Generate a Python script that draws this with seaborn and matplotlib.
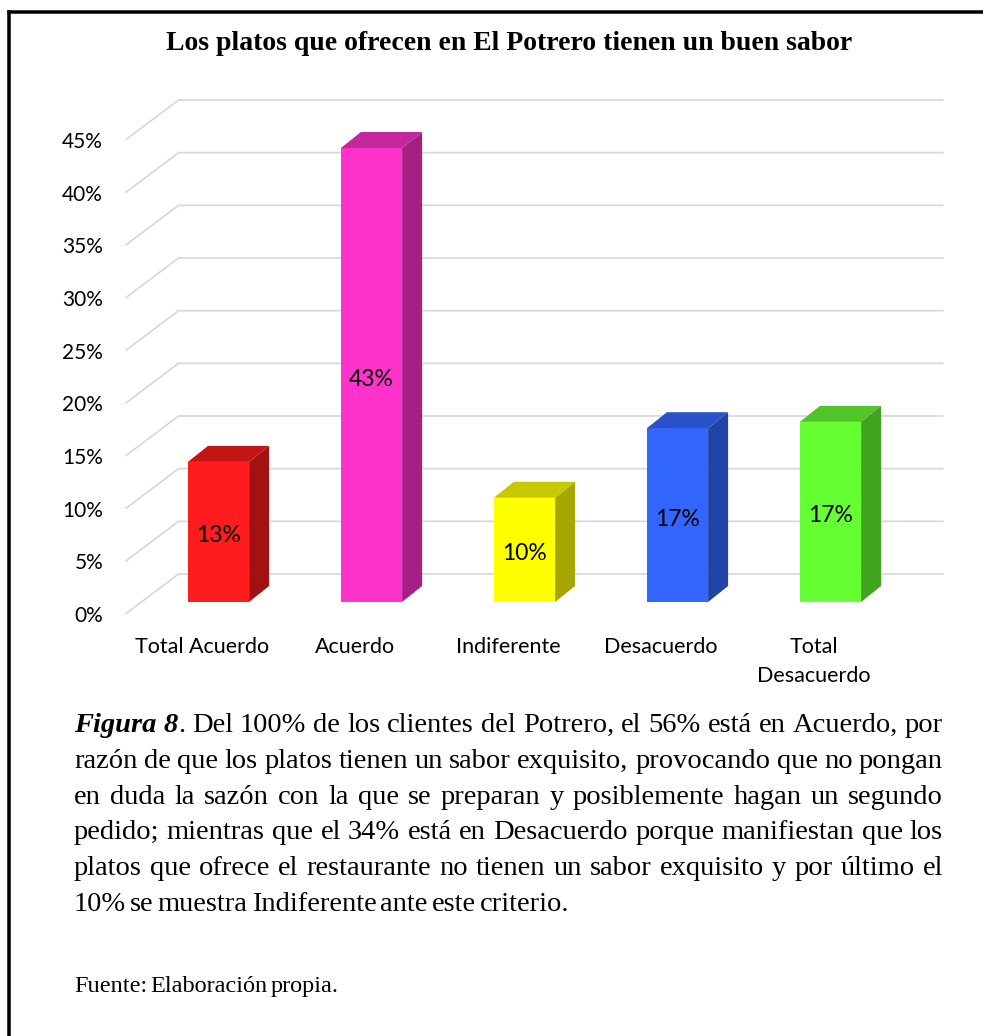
import matplotlib
matplotlib.use("Agg")
import matplotlib.pyplot as plt
import seaborn as sns
import pandas as pd
from matplotlib.patches import Polygon
from matplotlib.transforms import ScaledTranslation
from matplotlib.lines import Line2D

# ---------------- data ----------------
categories = ["Total Acuerdo", "Acuerdo", "Indiferente", "Desacuerdo", "Total\nDesacuerdo"]
values = [13.3, 43.1, 9.9, 16.5, 17.1]
value_labels = ["13%", "43%", "10%", "17%", "17%"]
y_ticks = [0, 5, 10, 15, 20, 25, 30, 35, 40, 45]
y_tick_labels = ["0%", "5%", "10%", "15%", "20%", "25%", "30%", "35%", "40%", "45%"]
front_colors = ["#FF1C1C", "#FF33CC", "#FFFF00", "#3366FF", "#66FF33"]
side_colors = ["#A31212", "#A61F85", "#A6A600", "#2244A6", "#42A321"]
top_colors = ["#C41515", "#C4279C", "#C8C800", "#2A52C8", "#52C428"]

title = "Los platos que ofrecen en El Potrero tienen un buen sabor"
caption_lines = [
    [[("Figura", "bi")], [("8", "bi"), (".", "r")], [("Del", "r")], [("100%", "r")], [("de", "r")],
     [("los", "r")], [("clientes", "r")], [("del", "r")], [("Potrero,", "r")], [("el", "r")],
     [("56%", "r")], [("está", "r")], [("en", "r")], [("Acuerdo,", "r")], [("por", "r")]],
    "razón de que los platos tienen un sabor exquisito, provocando que no pongan",
    "en duda la sazón con la que se preparan y posiblemente hagan un segundo",
    "pedido; mientras que el 34% está en Desacuerdo porque manifiestan que los",
    "platos que ofrece el restaurante no tienen un sabor exquisito y por último el",
]
caption_last = "10% se muestra Indiferente ante este criterio."
source = "Fuente: Elaboración propia."

# ---------------- layout ----------------
W, H = 983, 1036
sns.set_style("white")
plt.rcParams["font.family"] = ["Lato", "DejaVu Sans"]

fig = plt.figure(figsize=(W / 100, H / 100), dpi=100)
ax = fig.add_axes([142 / W, 434 / H, 765 / W, 474 / H])

df = pd.DataFrame({"cat": categories, "val": values})
sns.barplot(data=df, x="cat", y="val", hue="cat", palette=front_colors, width=0.4,
            saturation=1, legend=False, ax=ax, zorder=3, linewidth=0)
ax.set_xlim(-0.5, 4.5)
ax.set_ylim(0, 45)
ax.set_xlabel("")
ax.set_ylabel("")
for s in ax.spines.values():
    s.set_visible(False)

px_x = 765 / 5.0
px_y = 474 / 45.0


def dxd(px):
    return px / px_x


def dyd(px):
    return px / px_y


# perspective gridlines (front -> back -> right)
for t in y_ticks:
    xs = [-0.5 + dxd(-16.5), -0.5 + dxd(36.5), 4.5 + dxd(36.5)]
    ys = [t + dyd(-12), t + dyd(28), t + dyd(28)]
    ax.plot(xs, ys, color="#D9D9D9", lw=1.3, clip_on=False, zorder=1,
            solid_capstyle="butt", solid_joinstyle="miter")

# 3D side and top faces built from the seaborn bars
ddx, ddy = dxd(20), dyd(16)
bars = [c.patches[0] for c in ax.containers]
for i, p in enumerate(bars):
    x0 = p.get_x()
    x1 = x0 + p.get_width()
    h = p.get_height()
    side = Polygon([(x1, 0), (x1 + ddx, ddy), (x1 + ddx, h + ddy), (x1, h)],
                   closed=True, facecolor=side_colors[i], edgecolor="none", zorder=3)
    top = Polygon([(x0, h), (x0 + ddx, h + ddy), (x1 + ddx, h + ddy), (x1, h)],
                  closed=True, facecolor=top_colors[i], edgecolor="none", zorder=3)
    ax.add_patch(side)
    ax.add_patch(top)
    ax.text(x0 + p.get_width() / 2, h / 2 - dyd(4), value_labels[i], ha="center", va="center",
            fontsize=16.5, color="black", zorder=5)

# ticks
ax.set_yticks(y_ticks, y_tick_labels)
ax.set_xticks(range(len(categories)), categories)
ax.tick_params(axis="y", length=0, pad=28, labelsize=15, labelcolor="black")
ax.tick_params(axis="x", length=0, pad=25.5, labelsize=15.5, labelcolor="black")
for lbl in ax.get_yticklabels():
    lbl.set_transform(lbl.get_transform() + ScaledTranslation(0, -12 / 100, fig.dpi_scale_trans))
for lbl in ax.get_xticklabels():
    lbl.set_transform(lbl.get_transform() + ScaledTranslation(-16.5 / 100, 0, fig.dpi_scale_trans))
    lbl.set_linespacing(1.55)
    lbl.set_multialignment("center")

# title
fig.text(509 / W, 1 - 43 / H, title, ha="center", va="center", fontfamily="Liberation Serif",
         fontweight="bold", fontsize=20, color="black")

# frame (left and top sides)
lw_frame = 3.5 * 0.72
fig.add_artist(Line2D([9 / W, 9 / W], [1 - 11.5 / H, -0.02], transform=fig.transFigure,
                      color="black", lw=lw_frame, solid_capstyle="projecting"))
fig.add_artist(Line2D([9 / W, 1.02], [1 - 11.5 / H, 1 - 11.5 / H], transform=fig.transFigure,
                      color="black", lw=lw_frame, solid_capstyle="projecting"))

# caption (justified)
styles = {"r": dict(fontstyle="normal", fontweight="normal"),
          "bi": dict(fontstyle="italic", fontweight="bold")}
renderer = fig.canvas.get_renderer()
left_px, right_px = 74, 943
base0, step = 732, 35.8


def to_words(line):
    if isinstance(line, str):
        return [[(w, "r")] for w in line.split(" ")]
    return line


def make_seg(x_px, y_px, txt, st, size):
    return fig.text(x_px / W, 1 - y_px / H, txt, ha="left", va="baseline",
                    fontfamily="Liberation Serif", fontsize=size, color="black",
                    **styles[st])


def place_line(words, y_px, size, justify, gap_px=None):
    items = []
    for word in words:
        segs = []
        for txt, st in word:
            t = make_seg(0, y_px, txt, st, size)
            w = t.get_window_extent(renderer).width
            segs.append((t, w))
        items.append(segs)
    widths = [sum(w for _, w in segs) for segs in items]
    if justify and len(items) > 1:
        gap = (right_px - left_px - sum(widths)) / (len(items) - 1)
    elif gap_px is not None:
        gap = gap_px
    else:
        gap = size / 72 * 100 * 0.25
    x = left_px
    for segs, wsum in zip(items, widths):
        xx = x
        for t, w in segs:
            t.set_x(xx / W)
            xx += w
        x += wsum + gap


cap_size = 20.5
for k, line in enumerate(caption_lines):
    place_line(to_words(line), base0 + k * step, cap_size, True)
place_line(to_words(caption_last), base0 + len(caption_lines) * step, cap_size, False, gap_px=4)
place_line(to_words(source), 992, 17.5, False, gap_px=3)

fig.savefig("out.png", dpi=100)
